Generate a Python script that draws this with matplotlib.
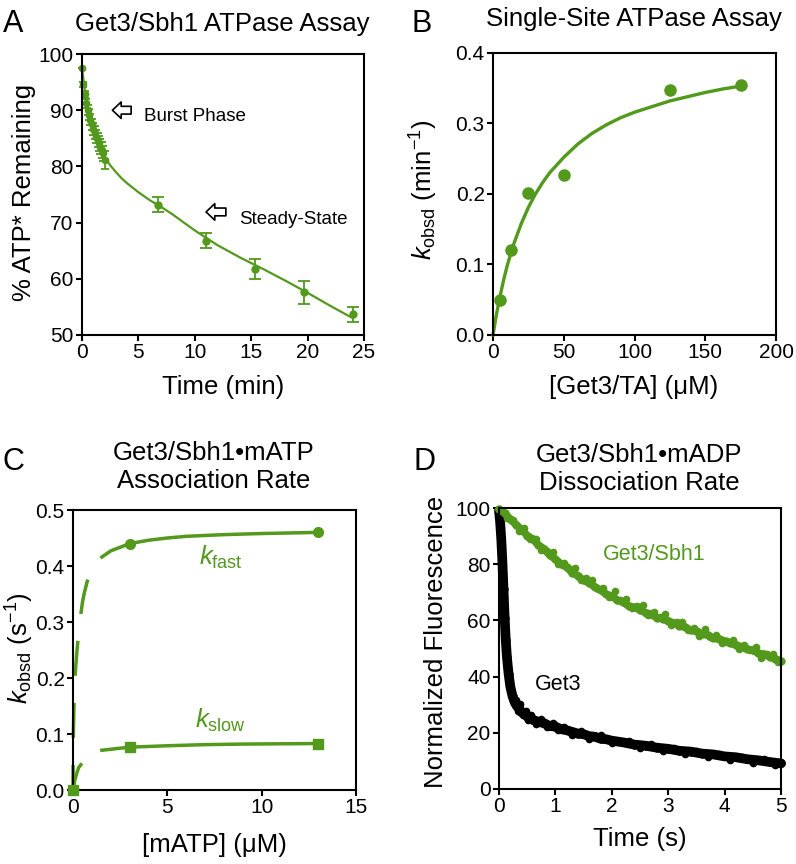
import numpy as np
import matplotlib
matplotlib.use("Agg")
import matplotlib.pyplot as plt

plt.rcParams['font.family'] = ['Liberation Sans', 'DejaVu Sans']
plt.rcParams['mathtext.fontset'] = 'custom'
plt.rcParams['mathtext.rm'] = 'Liberation Sans'
plt.rcParams['mathtext.it'] = 'Liberation Sans:italic'
plt.rcParams['axes.linewidth'] = 1.5

green = '#52991c'

#%% data

# A: burst + steady-state
a_burst_t = [0, 0.12, 0.25, 0.38, 0.5, 0.62, 0.75, 0.88, 1.0, 1.12, 1.25, 1.38, 1.5, 1.62, 1.75, 1.88, 2.05]
a_burst_y = [97.5, 94.6, 92.8, 91.2, 90.0, 89.2, 88.3, 87.5, 86.7, 86.0, 85.3, 84.7, 84.1, 83.5, 82.9, 82.3, 81.1]
a_burst_err = [0, 0.5, 0.6, 0.8, 0.9, 1.0, 1.0, 1.0, 1.1, 1.2, 1.2, 1.3, 1.3, 1.3, 1.4, 1.4, 1.6]
a_late_t = [6.7, 11.0, 15.3, 19.7, 24.0]
a_late_y = [73.2, 66.8, 61.7, 57.6, 53.7]
a_late_err = [1.3, 1.4, 1.8, 2.0, 1.3]
a_fit_t = [0, 0.25, 0.5, 0.75, 1, 1.5, 2, 2.5, 3, 3.5, 4, 5, 6, 7, 8, 10, 12, 14, 16, 18, 20, 22, 24]
a_fit_y = [97.5, 93.6, 90.8, 88.7, 86.9, 84.0, 81.7, 80.2, 79.0, 77.9, 77.0, 75.4, 74.0, 72.8, 71.5, 68.6,
           66.0, 63.8, 61.8, 59.7, 57.5, 55.2, 53.0]

# B: single-site ATPase
b_conc = [5, 12.5, 25, 50, 125, 175]
b_kobs = [0.049, 0.121, 0.201, 0.227, 0.348, 0.355]
b_fit_x = [0, 2.5, 5, 7.5, 10, 12.5, 15, 20, 25, 30, 35, 40, 50, 60, 70, 80, 90, 100, 112.5, 125,
           137.5, 150, 162.5, 175]
b_fit_y = [0, 0.030, 0.055, 0.078, 0.098, 0.115, 0.131, 0.158, 0.181, 0.200, 0.216, 0.230, 0.252,
           0.271, 0.286, 0.298, 0.308, 0.316, 0.324, 0.332, 0.338, 0.344, 0.349, 0.353]

# C: association rates
c_fast_x = [0, 3, 13]
c_fast_y = [0, 0.44, 0.46]
c_slow_x = [0, 3, 13]
c_slow_y = [0, 0.077, 0.083]
c_fast_ext_x = [0, 0.005, 0.02, 0.05, 0.1, 0.2, 0.3, 0.4, 0.5, 0.6, 0.75, 0.9, 1.1, 1.3, 1.53]
c_fast_ext_y = [0, 0.04, 0.1, 0.15, 0.2, 0.245, 0.28, 0.31, 0.335, 0.352, 0.372, 0.385, 0.398, 0.408, 0.416]
c_fast_fit_x = [1.53, 2, 3, 4, 5, 6, 8, 10, 13]
c_fast_fit_y = [0.416, 0.427, 0.440, 0.446, 0.450, 0.453, 0.456, 0.458, 0.460]
c_slow_ext_x = [0, 0.1, 0.2, 0.3, 0.48, 0.7, 1.0, 1.25, 1.53]
c_slow_ext_y = [0, 0.018, 0.030, 0.040, 0.048, 0.057, 0.064, 0.068, 0.071]
c_slow_fit_x = [1.53, 3, 5, 7, 9, 11, 13]
c_slow_fit_y = [0.071, 0.0765, 0.079, 0.081, 0.082, 0.0825, 0.083]

# D: dissociation traces (two interleaved read-offs of each noisy trace)
d_sbh_t = [0.0, 0.1, 0.2, 0.3, 0.4, 0.5, 0.6, 0.7, 0.8, 0.9, 1.0, 1.1, 1.2, 1.3, 1.4, 1.5, 1.6, 1.7,
           1.8, 1.9, 2.0, 2.1, 2.2, 2.3, 2.4, 2.5, 2.6, 2.7, 2.8, 2.9, 3.0, 3.1, 3.2, 3.3, 3.4, 3.5,
           3.6, 3.7, 3.8, 3.9, 4.0, 4.1, 4.2, 4.3, 4.4, 4.5, 4.6, 4.7, 4.8, 4.9, 5.0]
d_sbh_y = [99.5, 98.2, 96.0, 94.1, 92.3, 90.2, 88.9, 86.8, 85.4, 83.2, 81.8, 80.1, 78.9, 77.0, 75.9,
           74.2, 73.4, 71.8, 70.9, 69.3, 68.6, 67.2, 66.5, 65.1, 64.6, 63.8, 62.7, 62.2, 60.9, 60.6,
           59.8, 59.0, 58.1, 57.6, 56.5, 56.3, 55.2, 54.8, 53.7, 53.4, 52.6, 51.9, 51.3, 50.6, 49.8,
           49.4, 48.3, 47.9, 47.0, 46.4, 45.5]
d_sbh_t2 = [0.05, 0.15, 0.25, 0.35, 0.45, 0.55, 0.65, 0.75, 0.85, 0.95, 1.05, 1.15, 1.25, 1.35, 1.45,
            1.55, 1.65, 1.75, 1.85, 1.95, 2.05, 2.15, 2.25, 2.35, 2.45, 2.55, 2.65, 2.75, 2.85, 2.95,
            3.05, 3.15, 3.25, 3.35, 3.45, 3.55, 3.65, 3.75, 3.85, 3.95, 4.05, 4.15, 4.25, 4.35, 4.45,
            4.55, 4.65, 4.75, 4.85, 4.95]
d_sbh_y2 = [99.0, 96.4, 95.7, 91.8, 93.0, 89.0, 88.8, 84.9, 84.8, 84.4, 80.2, 80.6, 78.2, 78.6, 74.2,
            75.0, 74.5, 71.1, 71.4, 68.4, 70.4, 67.2, 67.7, 64.5, 65.1, 65.4, 61.9, 63.0, 61.2, 62.1,
            58.2, 59.5, 59.4, 56.5, 57.2, 54.5, 56.9, 54.0, 54.8, 51.9, 52.7, 53.2, 49.9, 51.1, 49.4,
            50.5, 46.7, 48.1, 48.1, 45.1]
d_get3_t = [0, 0.02, 0.04, 0.06, 0.08, 0.10, 0.12, 0.14, 0.17, 0.20, 0.24, 0.28, 0.32, 0.36, 0.40,
            0.45, 0.50, 0.55, 0.60, 0.70, 0.80, 0.90, 1.0, 1.1, 1.2, 1.3, 1.4, 1.5, 1.6, 1.7, 1.8,
            1.9, 2.0, 2.2, 2.4, 2.6, 2.8, 3.0, 3.2, 3.4, 3.6, 3.8, 4.0, 4.2, 4.4, 4.6, 4.8, 5.0]
d_get3_y = [99, 95, 89, 81, 71, 61, 53, 47, 41, 36.5, 33, 30.8, 29.4, 28.6, 27.3, 26.9, 25.8, 25.6,
            24.6, 23.9, 23.4, 22.4, 22.2, 21.3, 20.9, 20.3, 19.7, 19.5, 18.8, 18.6, 17.9, 17.7, 17.2,
            16.6, 15.8, 15.4, 14.7, 14.3, 13.6, 13.3, 12.6, 12.3, 11.6, 11.3, 10.6, 10.2, 9.6, 9.1]
d_get3_t2 = [0.3, 0.34, 0.38, 0.42, 0.47, 0.52, 0.57, 0.65, 0.75, 0.85, 0.95, 1.05, 1.15, 1.3, 1.45,
             1.6, 1.8, 2.0, 2.3, 2.5, 2.7, 2.9, 3.1, 3.3, 3.5, 3.7, 3.9, 4.1, 4.3, 4.5, 4.7, 4.9]
d_get3_y2 = [31.8, 27.8, 30.1, 26.3, 27.9, 24.4, 26.4, 23.1, 24.8, 21.9, 23.6, 20.9, 22.1, 19.1, 20.5,
             17.8, 19.1, 16.3, 17.1, 14.5, 15.9, 13.5, 14.6, 12.3, 13.4, 11.3, 12.5, 10.4, 11.5, 9.4,
             10.6, 8.6]

#%% figure

W, H = 796, 864
fig = plt.figure(figsize=(W / 100, H / 100), dpi=100)


def box(l, t, r, b):
    return [l / W, 1 - b / H, (r - l) / W, (b - t) / H]


def px(x, y):
    return x / W, 1 - y / H


def style(ax):
    ax.tick_params(direction='out', length=4.5, width=1.5, labelsize=15, pad=1.5)
    ax.tick_params(top=False, right=False)


axA = fig.add_axes(box(82, 54, 364, 335))
axB = fig.add_axes(box(493, 53, 776, 335))
axC = fig.add_axes(box(73, 510, 356, 790))
axD = fig.add_axes(box(499, 508, 781, 789))
for ax in (axA, axB, axC, axD):
    style(ax)

# A
axA.plot(a_fit_t, a_fit_y, color=green, lw=1.6)
axA.errorbar(a_burst_t, a_burst_y, yerr=a_burst_err, fmt='o', ms=4.5, color=green,
             elinewidth=1.3, capsize=3, capthick=1.3, clip_on=False)
axA.errorbar(a_late_t, a_late_y, yerr=a_late_err, fmt='o', ms=5, color=green,
             elinewidth=1.3, capsize=4, capthick=1.3)
axA.set_xlim(0, 25)
axA.set_ylim(50, 100)
axA.set_xticks([0, 5, 10, 15, 20, 25])
axA.set_yticks([50, 60, 70, 80, 90, 100])
arr = dict(arrowstyle='simple,head_length=0.45,head_width=0.85,tail_width=0.4',
           mutation_scale=14, fc='white', ec='black', lw=1.2)
axA.annotate('', xy=(2.45, 90.0), xytext=(4.6, 90.0), arrowprops=arr)
axA.annotate('', xy=(10.75, 71.9), xytext=(13.0, 71.9), arrowprops=arr)
axA.text(5.5, 88.0, 'Burst Phase', fontsize=13.5, va='baseline')
axA.text(13.9, 69.75, 'Steady-State', fontsize=13.5, va='baseline')

# B
axB.plot(b_fit_x, b_fit_y, color=green, lw=2.4, clip_on=False)
axB.plot(b_conc, b_kobs, 'o', ms=8, color=green)
axB.set_xlim(0, 200)
axB.set_ylim(0, 0.4)
axB.set_xticks([0, 50, 100, 150, 200])
axB.set_yticks([0.0, 0.1, 0.2, 0.3, 0.4])
axB.yaxis.set_major_formatter(matplotlib.ticker.FormatStrFormatter('%.1f'))

# C
dash = (10.1, 7.8)
axC.plot(c_fast_ext_x, c_fast_ext_y, color=green, lw=2.5, ls=(2.9, dash), clip_on=False)
axC.plot(c_slow_ext_x, c_slow_ext_y, color=green, lw=2.5, ls=(1.9, dash), clip_on=False)
axC.plot(c_fast_fit_x, c_fast_fit_y, color=green, lw=2.5)
axC.plot(c_slow_fit_x, c_slow_fit_y, color=green, lw=2.5)
axC.plot(c_fast_x, c_fast_y, 'o', ms=7, color=green, clip_on=False, zorder=4)
axC.plot(c_slow_x, c_slow_y, 's', ms=7, color=green, clip_on=False, zorder=4)
axC.set_xlim(0, 15)
axC.set_ylim(0, 0.5)
axC.set_xticks([0, 5, 10, 15])
axC.set_yticks([0.0, 0.1, 0.2, 0.3, 0.4, 0.5])
axC.yaxis.set_major_formatter(matplotlib.ticker.FormatStrFormatter('%.1f'))
axC.text(6.7, 0.402, r'$k_{\mathrm{fast}}$', color=green, fontsize=18.5, va='baseline')
axC.text(6.45, 0.111, r'$k_{\mathrm{slow}}$', color=green, fontsize=18.5, va='baseline')

# D
axD.plot(d_get3_t, d_get3_y, color='black', lw=7, solid_capstyle='round', clip_on=False)
axD.plot(d_get3_t, d_get3_y, 'o', ms=5, color='black', clip_on=False)
axD.plot(d_get3_t2, d_get3_y2, 'o', ms=4.5, color='black', clip_on=False)
axD.plot(d_sbh_t, d_sbh_y, color=green, lw=5.5, solid_capstyle='round', clip_on=False)
axD.plot(d_sbh_t, d_sbh_y, 'o', ms=5, color=green, clip_on=False)
axD.plot(d_sbh_t2, d_sbh_y2, 'o', ms=4.5, color=green, clip_on=False)
axD.set_xlim(0, 5)
axD.set_ylim(0, 100)
axD.set_xticks([0, 1, 2, 3, 4, 5])
axD.set_yticks([0, 20, 40, 60, 80, 100])
axD.text(1.84, 81.5, 'Get3/Sbh1', color=green, fontsize=15.5, va='baseline')
axD.text(0.64, 35.2, 'Get3', color='black', fontsize=15.5, va='baseline')

# titles, letters, axis labels
fs = 18.5
fig.text(*px(222, 31), 'Get3/Sbh1 ATPase Assay', fontsize=fs, ha='center', va='baseline')
fig.text(*px(634, 26), 'Single-Site ATPase Assay', fontsize=fs, ha='center', va='baseline')
fig.text(*px(214, 460), 'Get3/Sbh1\u2022mATP', fontsize=fs, ha='center', va='baseline')
fig.text(*px(214, 488), 'Association Rate', fontsize=fs, ha='center', va='baseline')
fig.text(*px(639, 462), 'Get3/Sbh1\u2022mADP', fontsize=fs, ha='center', va='baseline')
fig.text(*px(639, 490), 'Dissociation Rate', fontsize=fs, ha='center', va='baseline')

for letter, x, y in [('A', 3, 32), ('B', 411, 32), ('C', 2, 470), ('D', 413, 470)]:
    fig.text(*px(x, y), letter, fontsize=22, va='baseline')

fig.text(*px(24, 192), '% ATP* Remaining', fontsize=fs, rotation=90, ha='center', va='center')
fig.text(*px(424, 190), r'$k_{\mathrm{obsd}}$ (min$^{-1}$)', fontsize=fs, rotation=90,
         ha='center', va='center')
fig.text(*px(20, 648), r'$k_{\mathrm{obsd}}$ (s$^{-1}$)', fontsize=fs, rotation=90,
         ha='center', va='center')
fig.text(*px(436, 642), 'Normalized Fluorescence', fontsize=fs, rotation=90, ha='center', va='center')

fig.text(*px(223, 387), 'Time (min)', fontsize=fs, ha='center', va='center')
fig.text(*px(634, 387), '[Get3/TA] (\u03bcM)', fontsize=fs, ha='center', va='center')
fig.text(*px(214, 845), '[mATP] (\u03bcM)', fontsize=fs, ha='center', va='center')
fig.text(*px(640, 839), 'Time (s)', fontsize=fs, ha='center', va='center')

fig.savefig('out.png', dpi=100)
